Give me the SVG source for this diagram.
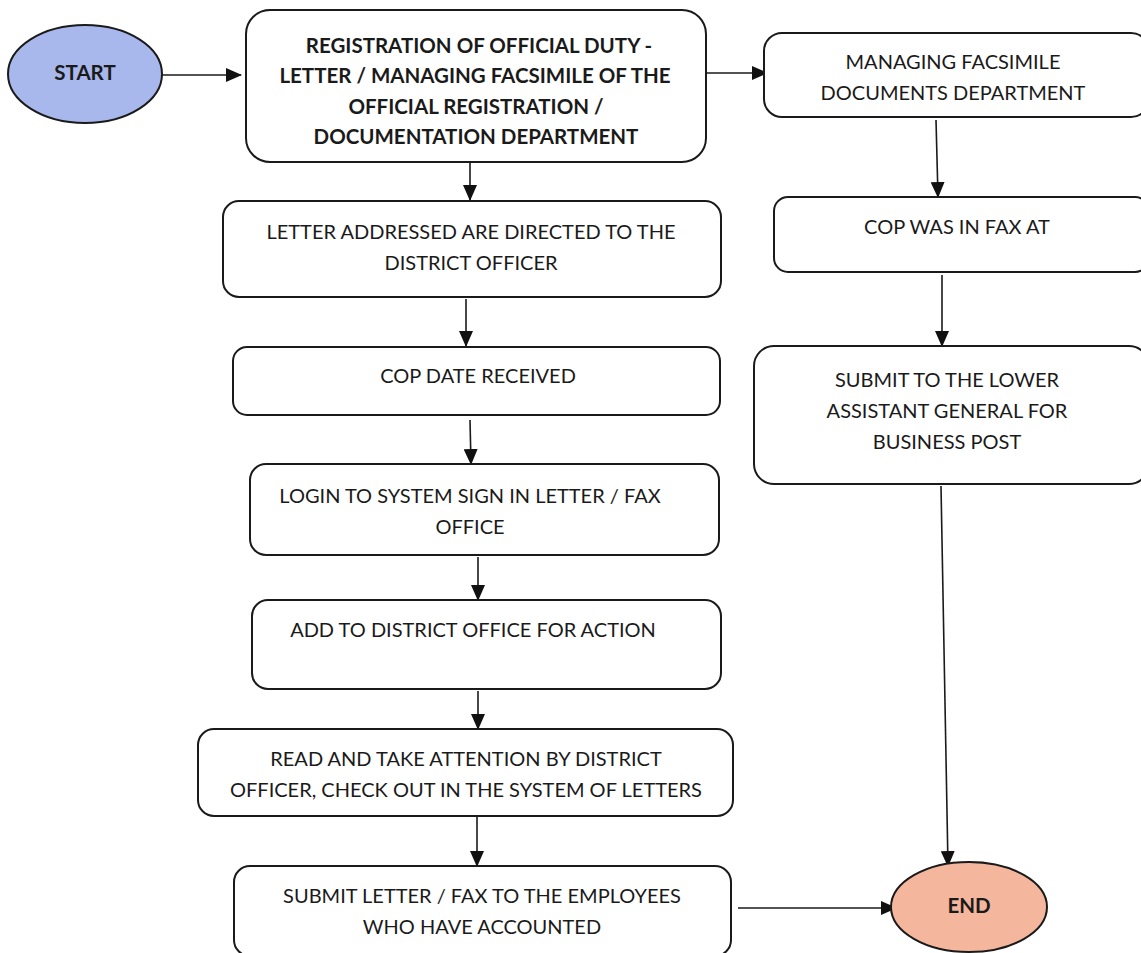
<svg xmlns="http://www.w3.org/2000/svg" width="1141" height="953" viewBox="0 0 1141 953">
  <defs>
    <marker id="arrow" markerUnits="userSpaceOnUse" markerWidth="16" markerHeight="14" refX="15" refY="7" orient="auto">
      <path d="M0,0 L16,7 L0,14 Z" fill="#111"/>
    </marker>
    <style>
      .box { fill: #ffffff; stroke: #1a1a1a; stroke-width: 2; }
      .label { font-family: Lato, "Open Sans", sans-serif; font-size: 20px; fill: #1a1a1a; text-anchor: middle; }
      .bold { font-weight: bold; font-size: 20.5px; }
      .edge { fill: none; stroke: #1a1a1a; stroke-width: 1.6; marker-end: url(#arrow); }
    </style>
  </defs>
  <rect width="1141" height="953" fill="#ffffff"/>

  <!-- connectors -->
  <g id="connectors">
    <line class="edge" x1="162" y1="75" x2="241" y2="75"/>
    <line class="edge" x1="706" y1="73" x2="767" y2="73"/>
    <line class="edge" x1="470" y1="163" x2="470" y2="200"/>
    <line class="edge" x1="466" y1="299" x2="466" y2="346"/>
    <line class="edge" x1="470" y1="420" x2="471" y2="464"/>
    <line class="edge" x1="478" y1="557" x2="478" y2="600"/>
    <line class="edge" x1="478" y1="691" x2="478" y2="729"/>
    <line class="edge" x1="477" y1="817" x2="477" y2="866"/>
    <line class="edge" x1="936" y1="120" x2="938" y2="197"/>
    <line class="edge" x1="942" y1="275" x2="942" y2="346"/>
    <line class="edge" x1="941" y1="486" x2="948" y2="866"/>
    <line class="edge" x1="738" y1="908" x2="896" y2="908"/>
  </g>

  <!-- start terminal -->
  <g id="start">
    <ellipse cx="85" cy="74" rx="77" ry="49" fill="#a8b7ec" stroke="#1a1a1a" stroke-width="2"/>
    <text class="label bold" x="85" y="80">START</text>
  </g>

  <g id="registration">
    <rect class="box" x="246" y="10" width="460" height="152" rx="24"/>
    <text class="label bold" x="479" y="53">REGISTRATION OF OFFICIAL DUTY -</text>
    <text class="label bold" x="475" y="83">LETTER / MANAGING FACSIMILE OF THE</text>
    <text class="label bold" x="476" y="114">OFFICIAL REGISTRATION /</text>
    <text class="label bold" x="476" y="144">DOCUMENTATION DEPARTMENT</text>
  </g>

  <g id="facsimile-dept">
    <rect class="box" x="764" y="33" width="385" height="84" rx="18"/>
    <text class="label" x="953" y="69">MANAGING FACSIMILE</text>
    <text class="label" x="953" y="100">DOCUMENTS DEPARTMENT</text>
  </g>

  <g id="cop-fax">
    <rect class="box" x="774" y="197" width="375" height="75" rx="14"/>
    <text class="label" x="957" y="234">COP WAS IN FAX AT</text>
  </g>

  <g id="submit-assistant">
    <rect class="box" x="754" y="346" width="395" height="138" rx="20"/>
    <text class="label" x="947" y="387">SUBMIT TO THE LOWER</text>
    <text class="label" x="947" y="418">ASSISTANT GENERAL FOR</text>
    <text class="label" x="947" y="449">BUSINESS POST</text>
  </g>

  <g id="letter-addressed">
    <rect class="box" x="223" y="201" width="498" height="96" rx="16"/>
    <text class="label" x="471" y="239">LETTER ADDRESSED ARE DIRECTED TO THE</text>
    <text class="label" x="471" y="270">DISTRICT OFFICER</text>
  </g>

  <g id="cop-date">
    <rect class="box" x="233" y="347" width="487" height="68" rx="14"/>
    <text class="label" x="478" y="383">COP DATE RECEIVED</text>
  </g>

  <g id="login">
    <rect class="box" x="250" y="464" width="469" height="91" rx="16"/>
    <text class="label" x="470" y="503">LOGIN TO SYSTEM SIGN IN LETTER / FAX</text>
    <text class="label" x="470" y="534">OFFICE</text>
  </g>

  <g id="add-district">
    <rect class="box" x="252" y="600" width="469" height="89" rx="16"/>
    <text class="label" x="473" y="637">ADD TO DISTRICT OFFICE FOR ACTION</text>
  </g>

  <g id="read-attention">
    <rect class="box" x="198" y="729" width="535" height="87" rx="16"/>
    <text class="label" x="466" y="766">READ AND TAKE ATTENTION BY DISTRICT</text>
    <text class="label" x="466" y="797">OFFICER, CHECK OUT IN THE SYSTEM OF LETTERS</text>
  </g>

  <g id="submit-employees">
    <rect class="box" x="234" y="866" width="497" height="90" rx="16"/>
    <text class="label" x="482" y="903">SUBMIT LETTER / FAX TO THE EMPLOYEES</text>
    <text class="label" x="482" y="934">WHO HAVE ACCOUNTED</text>
  </g>

  <!-- end terminal -->
  <g id="end">
    <ellipse cx="969" cy="907" rx="78" ry="45" fill="#f4b69c" stroke="#1a1a1a" stroke-width="2"/>
    <text class="label bold" x="969" y="913">END</text>
  </g>
</svg>
